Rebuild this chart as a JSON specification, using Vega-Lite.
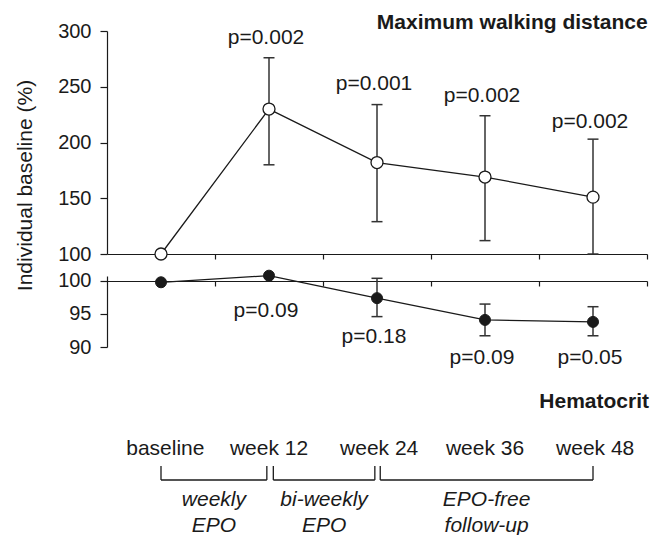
{
  "$schema": "https://vega.github.io/schema/vega-lite/v6.json",
  "padding": {"left": 14, "top": 12, "right": 5, "bottom": 5},
  "bounds": "flush",
  "spacing": 22,
  "background": "white",
  "config": {
    "view": {"stroke": null},
    "font": "Liberation Sans",
    "axis": {
      "domainColor": "#1a1a1a", "tickColor": "#1a1a1a", "labelColor": "#1a1a1a",
      "labelFont": "Liberation Sans", "labelFontSize": 20, "grid": false, "labelOverlap": false,
      "domainWidth": 1.2, "tickWidth": 1.2, "titleColor": "#1a1a1a"
    }
  },
  "datasets": {
    "top": [
      {"idx": 0, "week": "baseline", "mean": 100, "lo": null, "hi": null, "p": null, "py": null},
      {"idx": 1, "week": "week 12", "mean": 230, "lo": 180, "hi": 276, "p": "p=0.002", "py": 293.5},
      {"idx": 2, "week": "week 24", "mean": 182, "lo": 129, "hi": 234, "p": "p=0.001", "py": 252.5},
      {"idx": 3, "week": "week 36", "mean": 169, "lo": 112, "hi": 224, "p": "p=0.002", "py": 241.7},
      {"idx": 4, "week": "week 48", "mean": 151, "lo": 100, "hi": 203, "p": "p=0.002", "py": 218.4}
    ],
    "bottom": [
      {"idx": 0, "week": "baseline", "mean": 99.8, "lo": null, "hi": null, "p": null, "py": null},
      {"idx": 1, "week": "week 12", "mean": 100.8, "lo": null, "hi": null, "p": "p=0.09", "py": 95.45},
      {"idx": 2, "week": "week 24", "mean": 97.4, "lo": 94.6, "hi": 100.4, "p": "p=0.18", "py": 91.5},
      {"idx": 3, "week": "week 36", "mean": 94.1, "lo": 91.7, "hi": 96.5, "p": "p=0.09", "py": 88.4},
      {"idx": 4, "week": "week 48", "mean": 93.8, "lo": 91.7, "hi": 96.1, "p": "p=0.05", "py": 88.4}
    ],
    "weeks": [
      {"idx": 0.04, "label": "baseline"},
      {"idx": 1, "label": "week 12"},
      {"idx": 2.02, "label": "week 24"},
      {"idx": 3, "label": "week 36"},
      {"idx": 4.02, "label": "week 48"}
    ],
    "brackets": [
      {"start": 0, "end": 0.98, "line1": "weekly", "line2": "EPO"},
      {"start": 1.04, "end": 1.98, "line1": "bi-weekly", "line2": "EPO"},
      {"start": 2.03, "end": 4.0, "line1": "EPO-free", "line2": "follow-up"}
    ],
    "ends": [
      {"pos": 0}, {"pos": 0.98}, {"pos": 1.04}, {"pos": 1.98}, {"pos": 2.03}, {"pos": 4.0}
    ]
  },
  "vconcat": [
    {
      "width": 540,
      "height": 223,
      "title": {"text": "Maximum walking distance", "anchor": "end", "fontSize": 21, "fontWeight": "bold", "color": "#1a1a1a", "font": "Liberation Sans", "offset": 2, "dy": 14},
      "data": {"name": "top"},
      "encoding": {
        "x": {"field": "idx", "type": "quantitative", "scale": {"domain": [-0.5, 4.5], "nice": false, "zero": false},
              "axis": {"values": [0.5, 1.5, 2.5, 3.5, 4.5], "labels": false, "tickSize": 5, "title": null}}
      },
      "layer": [
        {
          "mark": {"type": "rule", "color": "#333333", "strokeWidth": 1.5},
          "encoding": {
            "y": {"field": "lo", "type": "quantitative", "title": "Individual baseline (%)",
                  "scale": {"domain": [100, 300], "nice": false, "zero": false},
                  "axis": {"values": [100, 150, 200, 250, 300], "tickSize": 7, "labelPadding": 9,
                           "titleFontSize": 21, "titleFontWeight": "normal", "titleFont": "Liberation Sans",
                           "titleX": -82, "titleY": 154, "titleAlign": "center", "titleBaseline": "middle", "titleAngle": -90}},
            "y2": {"field": "hi"}
          }
        },
        {
          "mark": {"type": "tick", "orient": "horizontal", "size": 11, "thickness": 1.5, "color": "#333333", "opacity": 1},
          "encoding": {"y": {"field": "lo", "type": "quantitative", "title": "Individual baseline (%)"}}
        },
        {
          "mark": {"type": "tick", "orient": "horizontal", "size": 11, "thickness": 1.5, "color": "#333333", "opacity": 1},
          "encoding": {"y": {"field": "hi", "type": "quantitative", "title": "Individual baseline (%)"}}
        },
        {
          "mark": {"type": "line", "color": "#1a1a1a", "strokeWidth": 1.3},
          "encoding": {"y": {"field": "mean", "type": "quantitative", "title": "Individual baseline (%)"}}
        },
        {
          "mark": {"type": "point", "shape": "circle", "filled": true, "fill": "white", "stroke": "#1a1a1a", "strokeWidth": 1.3, "size": 144, "opacity": 1},
          "encoding": {"y": {"field": "mean", "type": "quantitative", "title": "Individual baseline (%)"}}
        },
        {
          "mark": {"type": "text", "fontSize": 21, "dx": -3, "color": "#1a1a1a", "baseline": "middle", "font": "Liberation Sans"},
          "encoding": {"y": {"field": "py", "type": "quantitative", "title": "Individual baseline (%)"}, "text": {"field": "p"}}
        }
      ]
    },
    {
      "width": 540,
      "height": 71,
      "data": {"name": "bottom"},
      "encoding": {
        "x": {"field": "idx", "type": "quantitative", "scale": {"domain": [-0.5, 4.5], "nice": false, "zero": false},
              "axis": {"values": [0.5, 1.5, 2.5, 3.5, 4.5], "labels": false, "tickSize": 5, "title": null, "offset": -66}}
      },
      "layer": [
        {
          "mark": {"type": "rule", "color": "#333333", "strokeWidth": 1.5},
          "encoding": {
            "y": {"field": "lo", "type": "quantitative", "title": null,
                  "scale": {"domain": [90, 100.75], "nice": false, "zero": false},
                  "axis": {"values": [90, 95, 100], "tickSize": 7, "labelPadding": 9, "title": null, "labelOverlap": false}},
            "y2": {"field": "hi"}
          }
        },
        {
          "mark": {"type": "tick", "orient": "horizontal", "size": 11, "thickness": 1.5, "color": "#333333", "opacity": 1},
          "encoding": {"y": {"field": "lo", "type": "quantitative", "title": null,
                  "axis": {"values": [90, 95, 100], "tickSize": 7, "labelPadding": 9, "title": null, "labelOverlap": false}}}
        },
        {
          "mark": {"type": "tick", "orient": "horizontal", "size": 11, "thickness": 1.5, "color": "#333333", "opacity": 1},
          "encoding": {"y": {"field": "hi", "type": "quantitative", "title": null,
                  "axis": {"values": [90, 95, 100], "tickSize": 7, "labelPadding": 9, "title": null, "labelOverlap": false}}}
        },
        {
          "mark": {"type": "line", "color": "#1a1a1a", "strokeWidth": 1.3},
          "encoding": {"y": {"field": "mean", "type": "quantitative", "title": null,
                  "axis": {"values": [90, 95, 100], "tickSize": 7, "labelPadding": 9, "title": null, "labelOverlap": false}}}
        },
        {
          "mark": {"type": "point", "shape": "circle", "filled": true, "fill": "#1a1a1a", "stroke": "#1a1a1a", "strokeWidth": 1, "size": 121, "opacity": 1},
          "encoding": {"y": {"field": "mean", "type": "quantitative", "title": null,
                  "axis": {"values": [90, 95, 100], "tickSize": 7, "labelPadding": 9, "title": null, "labelOverlap": false}}}
        },
        {
          "mark": {"type": "text", "fontSize": 21, "dx": -3, "color": "#1a1a1a", "baseline": "middle", "font": "Liberation Sans"},
          "encoding": {"y": {"field": "py", "type": "quantitative", "title": null,
                  "axis": {"values": [90, 95, 100], "tickSize": 7, "labelPadding": 9, "title": null, "labelOverlap": false}}, "text": {"field": "p"}}
        }
      ]
    },
    {
      "width": 540,
      "height": 160,
      "layer": [
        {
          "data": {"values": [{"name": "Hematocrit"}]},
          "mark": {"type": "text", "fontSize": 21, "fontWeight": "bold", "align": "right", "baseline": "middle", "color": "#1a1a1a", "dx": 2, "font": "Liberation Sans"},
          "encoding": {
            "x": {"datum": 4.5, "type": "quantitative", "scale": {"domain": [-0.5, 4.5], "nice": false, "zero": false}, "axis": null},
            "y": {"datum": 1.65, "type": "quantitative", "scale": {"domain": [0, 8], "nice": false, "zero": false, "reverse": true}, "axis": null},
            "text": {"field": "name"}
          }
        },
        {
          "data": {"name": "weeks"},
          "mark": {"type": "text", "fontSize": 21, "baseline": "middle", "color": "#1a1a1a", "font": "Liberation Sans"},
          "encoding": {
            "x": {"field": "idx", "type": "quantitative", "axis": null},
            "y": {"datum": 4.0, "type": "quantitative", "axis": null},
            "text": {"field": "label"}
          }
        },
        {
          "data": {"name": "brackets"},
          "mark": {"type": "rule", "color": "#1a1a1a", "strokeWidth": 1.3},
          "encoding": {
            "x": {"field": "start", "type": "quantitative", "axis": null},
            "x2": {"field": "end"},
            "y": {"datum": 5.55, "type": "quantitative", "axis": null}
          }
        },
        {
          "data": {"name": "ends"},
          "mark": {"type": "rule", "color": "#1a1a1a", "strokeWidth": 1.3},
          "encoding": {
            "x": {"field": "pos", "type": "quantitative", "axis": null},
            "y": {"datum": 4.85, "type": "quantitative", "axis": null},
            "y2": {"datum": 5.55}
          }
        },
        {
          "data": {"name": "brackets"},
          "transform": [{"calculate": "(datum.start + datum.end) / 2", "as": "mid"}],
          "mark": {"type": "text", "fontSize": 21, "fontStyle": "italic", "baseline": "middle", "color": "#1a1a1a", "font": "Liberation Sans"},
          "encoding": {
            "x": {"field": "mid", "type": "quantitative", "axis": null},
            "y": {"datum": 6.55, "type": "quantitative", "axis": null},
            "text": {"field": "line1"}
          }
        },
        {
          "data": {"name": "brackets"},
          "transform": [{"calculate": "(datum.start + datum.end) / 2", "as": "mid"}],
          "mark": {"type": "text", "fontSize": 21, "fontStyle": "italic", "baseline": "middle", "color": "#1a1a1a", "font": "Liberation Sans"},
          "encoding": {
            "x": {"field": "mid", "type": "quantitative", "axis": null},
            "y": {"datum": 7.85, "type": "quantitative", "axis": null},
            "text": {"field": "line2"}
          }
        }
      ]
    }
  ]
}
